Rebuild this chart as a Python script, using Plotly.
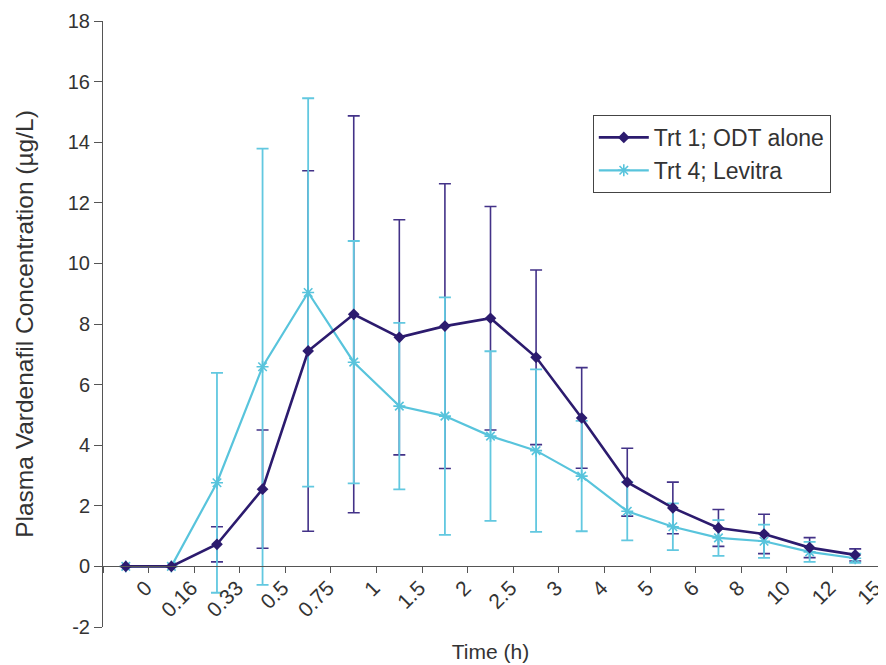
import plotly.graph_objects as go

# ---- data ----
time_labels = ["0", "0.16", "0.33", "0.5", "0.75", "1", "1.5", "2", "2.5",
               "3", "4", "5", "6", "8", "10", "12", "15"]
trt1_mean = [0, 0, 0.73, 2.55, 7.11, 8.32, 7.56, 7.93, 8.19, 6.90, 4.90,
             2.78, 1.93, 1.27, 1.07, 0.62, 0.38]
trt1_sd = [0, 0, 0.58, 1.95, 5.95, 6.55, 3.88, 4.70, 3.69, 2.88, 1.66,
           1.12, 0.85, 0.61, 0.65, 0.33, 0.20]
trt4_mean = [0, 0, 2.76, 6.59, 9.04, 6.74, 5.29, 4.96, 4.30, 3.82, 2.98,
             1.82, 1.31, 0.94, 0.83, 0.48, 0.27]
trt4_sd = [0, 0, 3.63, 7.20, 6.41, 4.00, 2.75, 3.92, 2.80, 2.68, 1.82,
           0.96, 0.77, 0.59, 0.55, 0.33, 0.15]
y_ticks = [-2, 0, 2, 4, 6, 8, 10, 12, 14, 16, 18]
y_tick_text = ["-2", "0", "2", "4", "6", "8", "10", "12", "14", "16", "18"]

C1 = "#2c1b6e"
C1_ERR = "#433288"
C4 = "#58c4dc"
C4_ERR = "#62c8e0"
FONT = "Arial, Liberation Sans, sans-serif"
TXT = "#333333"

fig = go.Figure()

# error bars (drawn beneath the lines)
fig.add_trace(go.Scatter(
    x=time_labels, y=trt1_mean, mode="markers",
    marker=dict(size=1, opacity=0),
    error_y=dict(type="data", array=trt1_sd, visible=True,
                 color=C1_ERR, thickness=1.6, width=6),
    showlegend=False, hoverinfo="skip"))
fig.add_trace(go.Scatter(
    x=time_labels, y=trt4_mean, mode="markers",
    marker=dict(size=1, opacity=0),
    error_y=dict(type="data", array=trt4_sd, visible=True,
                 color=C4_ERR, thickness=1.8, width=6),
    showlegend=False, hoverinfo="skip"))

# lines
fig.add_trace(go.Scatter(
    x=time_labels, y=trt4_mean, mode="lines+markers", name="Trt 4; Levitra",
    line=dict(color=C4, width=2.2),
    marker=dict(symbol="asterisk-open", size=10, color=C4,
                line=dict(color=C4, width=1.6)),
    legendrank=2))
fig.add_trace(go.Scatter(
    x=time_labels, y=trt1_mean, mode="lines+markers", name="Trt 1; ODT alone",
    line=dict(color=C1, width=2.6),
    marker=dict(symbol="diamond", size=9, color=C1),
    legendrank=1))

# page body has an 8px default margin, so the figure is 8px smaller
fig.update_layout(
    width=878, height=657,
    margin=dict(l=95, r=8, t=13, b=38),
    paper_bgcolor="white", plot_bgcolor="white",
    font=dict(family=FONT, size=20, color=TXT),
    showlegend=True,
    legend=dict(x=0.632, y=0.845, xanchor="left", yanchor="top",
                bordercolor="#444444", borderwidth=1, bgcolor="white",
                font=dict(size=23, color=TXT), tracegroupgap=0,
                itemwidth=50),
    xaxis=dict(
        type="category", range=[-0.5, 16.5],
        anchor="free", position=0.1,
        showline=True, linecolor="#555555", linewidth=1,
        ticks="outside", ticklen=6, tickcolor="#555555",
        tickson="boundaries", tickangle=-45, ticklabelshift=20,
        showgrid=False, zeroline=False,
        tickfont=dict(size=21, color=TXT),
        title=dict(text="Time (h)", font=dict(size=21, color=TXT), standoff=24),
        automargin=False),
    yaxis=dict(
        range=[-2, 18], tickvals=y_ticks, ticktext=y_tick_text,
        showline=True, linecolor="#555555", linewidth=1,
        ticks="outside", ticklen=8, tickcolor="#555555",
        showgrid=False, zeroline=False,
        tickfont=dict(size=20, color=TXT),
        title=dict(text="Plasma Vardenafil Concentration (µg/L)",
                   font=dict(size=24.5, color=TXT), standoff=27),
        automargin=False),
)

fig.write_html("out.html")
